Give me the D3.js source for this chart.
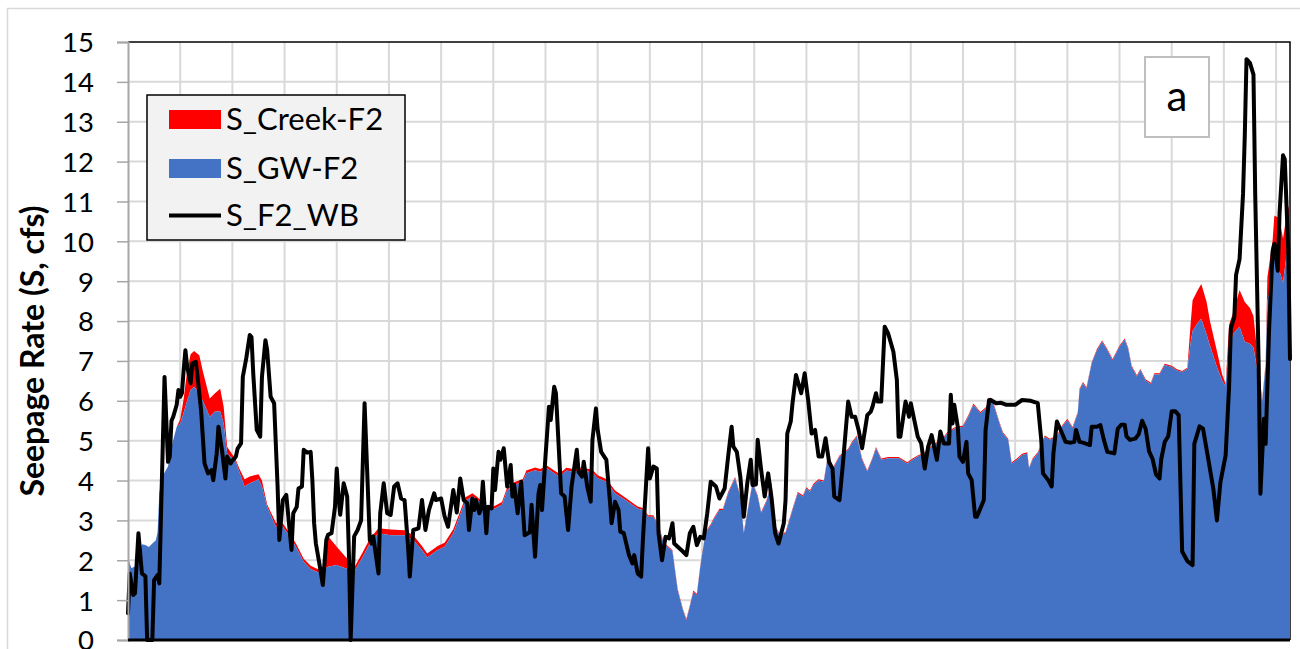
<!DOCTYPE html>
<html><head><meta charset="utf-8">
<script src="https://cdn.jsdelivr.net/npm/d3@7"></script>
<style>
body{margin:0;background:#fff;}
svg{display:block;font-family:Lato,"Open Sans",sans-serif;}
</style>
</head><body>
<svg id="chart" width="1300" height="649"></svg>
<script>
// ---------- data ----------
const yTickValues = d3.range(0, 16);
const seriesNames = ["S_Creek-F2", "S_GW-F2", "S_F2_WB"];
const panelLabel = "a";
const yAxisTitle = "Seepage Rate (S, cfs)";
const dayDomain = [0, 668];
const gridStepDays = 30;

const areaDays = [
  0,1,2,4,7,8,10,12,14,16,
  17,18,20,21,23,25,28,30,32,34,
  36,38,41,43,47,50,53,55,57,62,
  64,67,70,75,77,80,85,89,93,97,
  101,105,109,112,115,120,125,128,130,135,
  139,144,151,159,164,169,172,178,182,187,
  191,194,198,201,207,211,215,218,222,227,
  229,234,237,241,245,248,252,256,261,267,
  270,275,280,286,293,296,299,302,305,308,
  313,316,319,321,323,325,327,329,332,335,
  337,340,342,345,349,352,354,356,359,362,
  364,367,370,372,375,378,382,385,388,390,
  392,394,397,400,402,405,409,414,416,419,
  422,425,428,430,433,437,443,448,451,454,
  458,462,468,471,475,480,483,486,490,493,
  496,498,501,503,506,508,511,514,517,518,
  520,523,527,530,534,537,540,543,546,547,
  549,551,554,557,560,563,566,570,573,575,
  577,580,582,585,588,590,593,596,600,603,
  606,609,611,612,615,617,620,622,626,629,
  631,633,636,639,642,645,647,650,652,654,
  655,658,659,661,663,664,666,668
];
const gwValues = [
  2.09,1.92,1.8,1.85,2.3,2.4,2.38,2.33,2.42,2.5,
  2.7,3.7,4.1,4.2,4.35,4.85,5.35,5.43,5.7,6.0,
  6.27,6.35,6.19,6.0,5.6,5.73,5.73,5.43,4.68,4.47,
  4.22,3.85,3.93,4.03,3.85,3.34,2.84,2.84,2.6,2.3,
  1.96,1.78,1.7,1.76,1.84,1.88,1.8,1.76,1.71,2.09,
  2.42,2.68,2.63,2.63,2.51,2.26,2.07,2.26,2.34,2.68,
  3.15,3.5,3.6,3.51,3.26,3.3,3.39,3.76,3.89,3.97,
  4.18,4.26,4.22,4.3,4.18,4.1,4.25,4.22,4.26,4.2,
  4.06,3.97,3.68,3.51,3.3,3.26,3.09,3.09,2.84,2.42,
  2.22,1.25,0.75,0.5,0.84,1.21,1.13,1.84,2.68,2.88,
  3.05,3.26,3.26,3.68,4.06,3.6,2.68,3.18,3.93,3.6,
  3.18,3.47,3.93,2.84,2.6,2.68,3.26,3.68,3.6,3.8,
  3.72,3.89,4.0,3.97,4.52,4.27,4.6,4.77,4.93,5.1,
  4.52,4.22,4.55,4.81,4.52,4.56,4.56,4.43,4.52,4.6,
  4.68,4.85,5.02,5.18,5.3,5.35,5.6,5.9,5.69,5.8,
  6.06,5.85,5.43,5.18,5.02,4.43,4.52,4.64,4.68,4.3,
  4.52,4.68,5.1,5.02,5.1,5.35,5.52,5.31,5.69,6.27,
  6.44,6.31,6.94,7.27,7.48,7.27,7.02,7.36,7.53,7.3,
  6.85,6.61,6.77,6.51,6.42,6.66,6.66,6.9,6.85,6.76,
  6.72,6.8,7.5,7.75,7.96,8.06,7.67,7.38,6.85,6.51,
  6.37,7.43,7.72,7.86,7.48,7.43,7.33,6.56,5.98,6.9,
  8.5,9.07,9.65,9.4,9.1,8.97,9.65,10.0
];
const creekValues = [
  0,0,0,0,0,0,0,0,0,0,
  0,0,0,0,0,0,0,0.1,0.35,0.75,
  0.9,0.9,0.95,0.75,0.46,0.46,0.57,0.42,0.17,0.05,
  0.08,0.18,0.17,0.13,0.15,0.06,0.1,0.08,0.08,0.08,
  0.08,0.08,0.08,0.08,0.76,0.46,0.29,0.2,0.1,0.12,
  0.12,0.12,0.14,0.12,0.12,0.1,0.1,0.1,0.1,0.1,
  0.08,0.08,0.08,0.07,0.07,0.07,0.07,0.07,0.07,0.07,
  0.07,0.07,0.07,0.07,0.07,0.07,0.07,0.07,0.07,0.07,
  0.07,0.07,0.07,0.06,0.05,0.05,0.04,0.04,0.04,0.03,
  0.03,0.03,0.03,0.03,0.03,0.03,0.03,0.03,0.03,0.03,
  0.03,0.03,0.03,0.03,0.03,0.03,0.03,0.03,0.03,0.03,
  0.03,0.03,0.03,0.03,0.03,0.03,0.03,0.03,0.03,0.03,
  0.03,0.03,0.03,0.03,0.03,0.03,0.03,0.03,0.03,0.03,
  0.03,0.03,0.03,0.03,0.03,0.03,0.03,0.03,0.03,0.03,
  0.03,0.03,0.03,0.03,0.03,0.03,0.03,0.03,0.03,0.03,
  0.03,0.03,0.03,0.03,0.03,0.03,0.03,0.03,0.03,0.03,
  0.03,0.03,0.03,0.03,0.03,0.03,0.03,0.03,0.03,0.03,
  0.03,0.03,0.03,0.03,0.03,0.03,0.03,0.03,0.03,0.03,
  0.03,0.03,0.03,0.03,0.03,0.03,0.03,0.03,0.03,0.03,
  0.03,0.03,0.5,0.77,0.82,0.87,0.82,0.62,0.39,0.15,
  0.05,0.48,0.58,0.92,1.0,0.9,0.8,0.3,0.05,0.05,
  0.6,0.95,1.0,1.2,1.2,1.1,1.0,1.0
];

const wbDays = [
  0,1,3,4,6,8,10,11,14,15,
  17,18,19,21,23,24,25,26,28,29,
  30,31,32,33,34,36,37,39,40,42,
  44,46,48,49,51,52,54,56,57,59,
  60,62,63,65,66,68,70,71,72,74,
  76,77,79,80,82,84,86,87,89,91,
  94,95,97,98,100,101,103,105,106,107,
  108,110,112,114,115,117,119,120,121,122,
  124,126,127,128,130,132,134,136,139,140,
  141,144,145,147,149,151,153,155,157,159,
  161,162,164,167,169,171,173,176,177,180,
  182,184,187,189,191,193,195,196,198,199,
  200,202,203,204,206,207,209,210,211,213,
  214,216,218,220,221,222,224,226,228,230,
  231,232,234,236,237,238,240,242,243,245,
  246,249,251,253,255,258,259,261,262,264,
  266,267,269,270,272,275,277,278,280,282,
  283,285,288,290,291,293,295,296,299,300,
  302,304,305,307,309,311,313,314,316,319,
  321,323,325,327,329,331,333,335,338,340,
  343,345,347,348,350,352,354,356,358,359,
  361,362,364,366,368,370,372,374,377,378,
  379,381,382,384,387,389,391,393,395,397,
  399,401,403,405,406,409,411,414,416,418,
  420,422,425,427,428,430,431,433,435,437,
  440,442,443,444,446,447,449,450,452,454,
  456,458,460,462,465,467,469,472,473,474,
  475,477,478,480,482,483,485,487,488,490,
  492,493,495,496,499,502,505,510,514,519,
  523,525,526,529,531,532,534,537,539,542,
  544,545,547,549,553,554,557,559,561,563,
  565,567,569,571,573,574,576,579,581,583,
  585,587,589,591,593,594,596,598,600,602,
  604,606,609,612,613,616,618,621,624,626,
  628,631,633,634,636,637,639,641,642,643,
  645,647,648,650,651,653,654,656,658,659,
  661,662,664,665,666,667,668
];
const wbValues = [
  0.67,1.67,1.13,1.17,2.68,1.67,1.6,0,0,1.5,
  1.63,1.42,3.2,6.6,4.47,4.6,5.5,5.6,5.9,6.27,
  6.1,6.19,6.77,7.27,6.86,6.44,6.94,6.98,6.6,5.77,
  4.43,4.18,4.26,4.01,4.68,5.35,4.77,4.05,4.6,4.43,
  4.5,4.6,4.8,4.93,6.6,7.07,7.65,7.6,6.69,5.27,
  5.1,6.6,7.52,7.27,6.1,5.94,3.85,2.51,3.51,3.64,
  2.26,3.18,3.34,3.8,3.85,4.77,4.7,4.72,4.0,2.93,
  2.42,1.92,1.38,2.51,2.64,2.68,3.34,4.3,3.6,3.14,
  3.93,3.6,2.17,0,2.6,2.76,3.0,5.94,2.51,2.42,
  2.6,1.67,3.18,3.93,3.18,3.14,3.85,3.93,3.55,3.51,
  2.34,1.59,2.76,2.8,3.51,2.76,3.26,3.68,3.51,3.55,
  3.1,2.84,3.76,3.2,4.05,3.51,3.43,2.76,3.55,3.26,
  3.51,3.18,3.3,3.97,2.68,3.34,3.3,4.3,3.76,4.72,
  4.52,4.81,3.85,4.39,3.6,3.89,3.18,3.97,2.63,2.68,
  2.7,3.39,2.09,3.68,3.89,3.26,4.6,5.85,5.52,6.35,
  6.19,3.68,3.6,2.76,3.85,4.77,4.22,4.1,4.47,3.85,
  3.47,5.02,5.81,5.27,4.72,4.52,3.51,2.93,3.47,3.26,
  2.72,2.68,2.13,1.92,2.13,1.67,1.59,2.51,4.81,4.05,
  4.35,4.3,2.68,2.0,2.59,2.55,2.93,2.42,2.34,2.22,
  2.13,2.68,2.84,2.38,2.59,2.55,3.18,3.97,3.85,3.55,
  3.8,4.6,5.35,4.85,4.72,4.1,3.09,3.93,4.52,3.89,
  3.9,5.02,4.26,3.6,4.18,3.55,2.68,2.42,2.93,3.5,
  5.18,5.48,5.94,6.65,6.19,6.69,6.02,5.18,5.27,4.6,
  4.6,5.06,4.47,4.3,3.6,3.51,4.43,5.98,5.6,5.6,
  5.27,4.81,5.64,5.73,5.85,6.19,5.98,5.98,7.86,7.69,
  7.23,6.52,5.1,5.1,5.69,5.98,5.6,5.94,5.52,5.1,
  4.93,4.3,4.85,5.14,4.52,5.23,4.93,4.93,6.15,5.43,
  5.9,5.35,4.6,4.47,4.97,4.18,4.01,3.09,3.09,3.3,
  3.51,5.27,6.02,6.02,5.94,5.95,5.9,5.9,6.02,6.0,
  5.94,5.02,4.18,4.01,3.85,4.68,5.48,5.18,4.97,4.95,
  4.97,5.27,4.97,4.95,4.89,5.35,5.35,5.39,5.02,4.72,
  4.7,4.68,5.3,5.4,5.4,5.11,5.02,5.05,5.16,5.5,
  5.3,4.73,4.54,4.15,4.05,4.54,4.97,5.11,5.74,5.74,
  5.64,2.22,1.98,1.88,4.92,5.36,5.3,4.54,3.77,3.0,
  3.96,4.63,6.37,7.82,8.1,9.16,9.55,11.19,12.64,14.57,
  14.47,14.18,11.19,6.85,3.67,5.55,4.92,7.82,9.75,9.94,
  9.26,10.71,12.16,12.06,10.9,9.8,7.05
];

// ---------- layout ----------
const plot = {left: 128, right: 1290, top: 42, bottom: 640};
const colors = {gw: "#4472C4", creek: "#FF0000", wb: "#000000", grid: "#d9d9d9", axis: "#a6a6a6"};

const svg = d3.select("#chart");
const x = d3.scaleLinear().domain(dayDomain).range([plot.left, plot.right]);
const y = d3.scaleLinear().domain([0, 15]).range([plot.bottom, plot.top]);

// outer chart border
svg.append("rect").attr("x", 7.5).attr("y", 8.5).attr("width", 1320).attr("height", 700)
  .attr("fill", "#fff").attr("stroke", "#d9d9d9").attr("stroke-width", 1.5);

// gridlines
const gridG = svg.append("g");
gridG.selectAll("line.h").data(yTickValues.filter(v => v > 0 && v < 15)).join("line")
  .attr("x1", plot.left).attr("x2", plot.right)
  .attr("y1", d => y(d)).attr("y2", d => y(d))
  .attr("stroke", colors.grid).attr("stroke-width", 2);
const vGrid = d3.range(gridStepDays, dayDomain[1], gridStepDays);
gridG.selectAll("line.v").data(vGrid).join("line")
  .attr("x1", d => x(d)).attr("x2", d => x(d))
  .attr("y1", plot.top).attr("y2", plot.bottom)
  .attr("stroke", colors.grid).attr("stroke-width", 2);

// plot border top/right
svg.append("path")
  .attr("d", `M${plot.left},${plot.top}H${plot.right}V${plot.bottom}`)
  .attr("fill", "none").attr("stroke", "#000").attr("stroke-width", 1.5);

// areas
const areaData = areaDays.map((d, i) => ({day: d, gw: gwValues[i], creek: creekValues[i]}));
const creekArea = d3.area().x(d => x(d.day)).y0(d => y(d.gw)).y1(d => y(d.gw + d.creek));
const gwArea = d3.area().x(d => x(d.day)).y0(y(0)).y1(d => y(d.gw));
svg.append("path").datum(areaData).attr("d", creekArea).attr("fill", colors.creek);
svg.append("path").datum(areaData).attr("d", gwArea).attr("fill", colors.gw);

// water balance line
const wbData = wbDays.map((d, i) => ({day: d, v: wbValues[i]}));
svg.append("path").datum(wbData)
  .attr("d", d3.line().x(d => x(d.day)).y(d => y(d.v)))
  .attr("fill", "none").attr("stroke", colors.wb).attr("stroke-width", 4)
  .attr("stroke-linejoin", "round").attr("stroke-linecap", "round");

// y axis
const yAxis = d3.axisLeft(y).tickValues(yTickValues).tickSize(11).tickPadding(23).tickFormat(d3.format("d"));
const yG = svg.append("g").attr("transform", `translate(${plot.left},0)`).call(yAxis);
yG.select(".domain").attr("stroke", colors.axis).attr("stroke-width", 2);
yG.selectAll(".tick line").attr("stroke", colors.axis).attr("stroke-width", 1.5);
yG.selectAll(".tick text").attr("font-family", "Lato, 'Open Sans', sans-serif")
  .attr("font-size", 27.5).attr("fill", "#000").attr("dy", "0.36em");

// x axis line
svg.append("line").attr("x1", plot.left).attr("x2", plot.right)
  .attr("y1", plot.bottom).attr("y2", plot.bottom)
  .attr("stroke", "#000").attr("stroke-width", 3);

// y axis title
svg.append("text")
  .attr("transform", `translate(44,351) rotate(-90)`)
  .attr("text-anchor", "middle").attr("font-weight", "bold").attr("font-size", 32)
  .attr("fill", "#000").text(yAxisTitle);

// legend
const legend = svg.append("g");
legend.append("rect").attr("x", 147).attr("y", 95).attr("width", 258).attr("height", 145)
  .attr("fill", "#f2f2f2").attr("stroke", "#000").attr("stroke-width", 1.5);
const rows = [
  {name: seriesNames[0], type: "area", color: colors.creek, cy: 119.5},
  {name: seriesNames[1], type: "area", color: colors.gw, cy: 168.5},
  {name: seriesNames[2], type: "line", color: colors.wb, cy: 215.5}
];
rows.forEach(r => {
  if (r.type === "area") {
    legend.append("rect").attr("x", 169).attr("y", r.cy - 9.5).attr("width", 52).attr("height", 19).attr("fill", r.color);
  } else {
    legend.append("line").attr("x1", 169).attr("x2", 221).attr("y1", r.cy).attr("y2", r.cy)
      .attr("stroke", r.color).attr("stroke-width", 4);
  }
  legend.append("text").attr("x", 226).attr("y", r.cy + 10.9).attr("font-size", 31).attr("fill", "#000").text(r.name);
});

// panel label
svg.append("rect").attr("x", 1145).attr("y", 57).attr("width", 64).attr("height", 80)
  .attr("fill", "#fff").attr("stroke", "#bfbfbf").attr("stroke-width", 2);
svg.append("text").attr("x", 1177).attr("y", 111).attr("text-anchor", "middle")
  .attr("font-size", 42).attr("fill", "#000").text(panelLabel);
</script>
</body></html>
